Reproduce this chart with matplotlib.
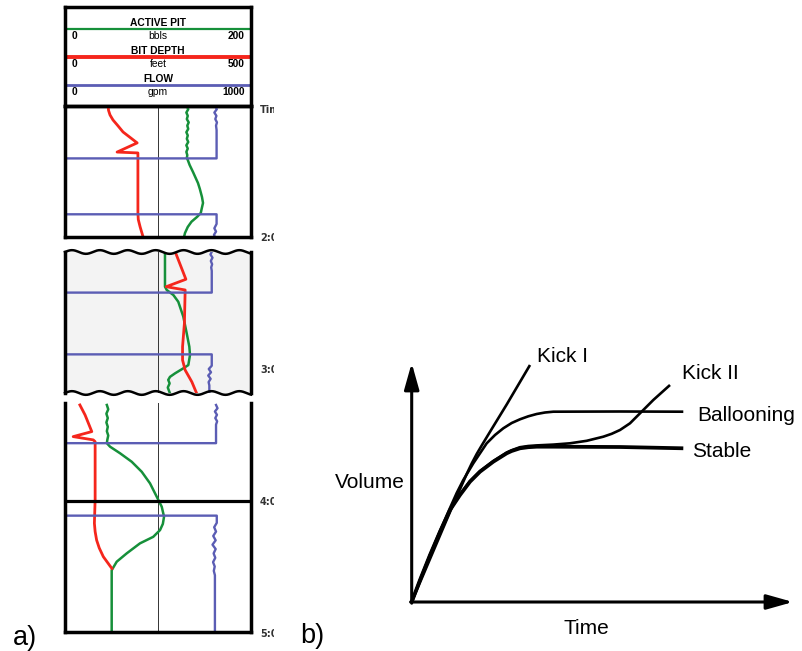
import numpy as np
import matplotlib
matplotlib.use('Agg')
import matplotlib.pyplot as plt
from matplotlib.transforms import Bbox, TransformedBbox, blended_transform_factory

W, H = 802, 651

# ---- a) drilling log, time in minutes after 1:00 ----
# segment 1 (1:00 - 2:00)
seg1_depth_t = [0, 2, 4.1, 6.4, 9, 11.9, 16.9, 21.1, 21.5, 49, 52, 55.4, 60]
seg1_depth = [116, 117, 121, 129, 142, 156, 194, 140, 196, 196, 197, 202, 210]
seg1_pit_t = [0, 1.5, 3, 4.5, 6, 7.5, 9, 10.5, 12, 13.5, 15, 16.5, 18, 19.5, 21, 22.5,
              23.8, 24.7, 27, 30.2, 35.3, 38, 41.7, 44.4, 47, 49, 50.8, 53, 55.4, 58.2, 60]
seg1_pit = [131, 132.5, 130.5, 132, 131, 133, 131.5, 132.5, 130.5, 132, 131, 132.5,
            130.5, 132, 130.5, 131.5, 131, 132, 134, 137.6, 143, 145, 147.3, 148.4,
            147, 146, 142, 136, 132, 129, 128]
seg1_flow_t = [0, 1.5, 3, 4.5, 6, 7.5, 9, 11, 24, 24, 49.6, 49.6, 54, 56, 57.5, 59, 60]
seg1_flow = [808, 816, 803, 814, 808, 817, 812, 815, 815, 0, 0, 815, 815, 803, 812,
             801, 806]

# segment 2 (about 2:05 - 3:10)
seg2_depth_t = [65.7, 78.4, 81.8, 83.3, 98.6, 109.3, 115.4, 120, 125.4, 130.7]
seg2_depth = [296, 325, 272, 323, 321, 316, 316, 323, 341, 354]
seg2_pit_t = [65.7, 81.8, 83.3, 85.6, 88.7, 95.5, 103.2, 109.3, 113.1, 117.7,
              119.2, 121.5, 123.1, 124.5, 126.1, 128, 130.7]
seg2_pit = [107.5, 107.5, 109.4, 116.5, 121.8, 127.2, 130.9, 133.7, 134.4, 132.6,
            127.2, 118.3, 112.9, 111, 112.5, 110.5, 112.9]
seg2_flow_t = [65.7, 67, 68.5, 70, 71.5, 73, 74.5, 84.5, 84.5, 112.8, 112.8, 118,
               119.5, 121, 122.5, 124, 125.5, 127, 130.7]
seg2_flow = [790, 782, 793, 784, 791, 786, 789, 789, 0, 0, 789, 789, 773, 785, 770,
             783, 772, 776, 776]

# segment 3 (about 3:15 - 5:00)
seg3_depth_t = [136, 140.6, 148.2, 150.5, 152, 152.8, 179.5, 190.2, 194, 197.9, 201.5,
                205.5, 210.9]
seg3_depth = [40, 54, 72, 22, 76, 81, 81, 79, 81, 85, 92, 103, 126]
seg3_pit_t = [136, 138, 140, 142, 144, 146, 148, 150, 152, 153.5, 155.1, 158.1, 162,
              166.6, 171.9, 178, 182.6, 187.2, 190.5, 193.3, 196.4, 199.4, 204, 207.8,
              211.7, 240]
seg3_pit = [45, 46.5, 44.5, 46, 44.5, 46, 45, 46.5, 45.5, 45, 48.4, 59.1, 71.7, 82.5,
            91.4, 98.6, 104, 106.5, 105.2, 102.2, 94.9, 80.6, 66.3, 55.6, 50.2, 50.2]
seg3_flow_t = [136, 137.5, 139, 140.5, 142, 143.5, 145, 153.5, 153.5, 186.7, 186.7,
               190, 192, 194, 196, 198, 200, 202, 204, 206, 208, 210, 212, 214, 216,
               220, 240]
seg3_flow = [812, 820, 806, 817, 808, 818, 812, 812, 0, 0, 816, 816, 802, 812, 797,
             810, 793, 810, 799, 808, 796, 805, 800, 806, 806, 806, 806]

track_names = ['ACTIVE PIT', 'BIT DEPTH', 'FLOW']
track_units = ['bbls', 'feet', 'gpm']
track_max = [200, 500, 1000]
time_labels = ['Time', '2:00', '3:00', '4:00', '5:00']

# ---- b) volume vs time sketch ----
stable_t = [0, 0.083, 0.183, 0.283, 0.383, 0.483, 0.583, 0.683, 0.816, 0.95, 1.0,
            1.083, 1.166, 1.25, 1.416, 2.083, 2.716]
stable_v = [0, 0.22, 0.47, 0.703, 0.92, 1.07, 1.203, 1.303, 1.403, 1.487, 1.51,
            1.537, 1.548, 1.553, 1.553, 1.55, 1.537]
kick2_t = [0, 0.083, 0.183, 0.283, 0.383, 0.483, 0.583, 0.683, 0.816, 0.95, 1.0, 1.083,
           1.166, 1.25, 1.416, 1.583, 1.75, 1.916, 2.0, 2.083, 2.183, 2.283, 2.416, 2.583]
kick2_v = [0, 0.22, 0.47, 0.703, 0.92, 1.075, 1.21, 1.31, 1.41, 1.495, 1.518, 1.548,
           1.56, 1.566, 1.574, 1.587, 1.612, 1.653, 1.682, 1.72, 1.787, 1.887, 2.02, 2.17]
balloon_t = [0, 0.083, 0.183, 0.283, 0.383, 0.45, 0.516, 0.616, 0.75, 0.833, 0.916,
             1.0, 1.083, 1.166, 1.25, 1.333, 1.416, 2.083, 2.716]
balloon_v = [0, 0.22, 0.47, 0.71, 0.94, 1.09, 1.22, 1.387, 1.587, 1.67, 1.737,
             1.79, 1.827, 1.857, 1.88, 1.895, 1.903, 1.905, 1.903]
kick1_t = [0, 0.2, 0.4, 0.55, 0.6, 0.65, 0.7, 0.8, 0.95, 1.183]
kick1_v = [0, 0.47, 0.94, 1.28, 1.385, 1.48, 1.565, 1.73, 1.975, 2.37]

RED, GREEN, BLUE = '#f5261c', '#16903a', '#5b5db4'

plt.rcParams['font.family'] = ['Liberation Sans', 'DejaVu Sans']
fig = plt.figure(figsize=(W / 100, H / 100), dpi=100)


def px_axes(x0, y0, x1, y1):
    return fig.add_axes([x0 / W, 1 - y1 / H, (x1 - x0) / W, (y1 - y0) / H])


# header
hdr = px_axes(65, 7, 251, 106)
hdr.set_xticks([])
hdr.set_yticks([])
for s in hdr.spines.values():
    s.set_linewidth(2.5)
for i, (name, unit, vmax, col, lw) in enumerate(
        zip(track_names, track_units, track_max, [GREEN, RED, BLUE], [1.6, 2.8, 2.0])):
    y0 = 0.838 - i * 0.285
    hdr.text(0.5, y0, name, ha='center', va='center', fontsize=7.4, fontweight='bold')
    hdr.axhline(y0 - 0.06, color=col, lw=lw)
    hdr.text(0.035, y0 - 0.131, '0', ha='left', va='center', fontsize=7.4, fontweight='bold')
    hdr.text(0.5, y0 - 0.131, unit, ha='center', va='center', fontsize=7.4)
    hdr.text(0.965, y0 - 0.131, str(vmax), ha='right', va='center', fontsize=7.4,
             fontweight='bold')

segments = [
    dict(px=(106, 237), lim=(0, 60), depth=(seg1_depth_t, seg1_depth),
         pit=(seg1_pit_t, seg1_pit), flow=(seg1_flow_t, seg1_flow)),
    dict(px=(252, 393), lim=(65.9, 130.5), depth=(seg2_depth_t, seg2_depth),
         pit=(seg2_pit_t, seg2_pit), flow=(seg2_flow_t, seg2_flow)),
    dict(px=(403, 632), lim=(135.1, 240), depth=(seg3_depth_t, seg3_depth),
         pit=(seg3_pit_t, seg3_pit), flow=(seg3_flow_t, seg3_flow)),
]

axes = []
for seg in segments:
    ax = px_axes(65, seg['px'][0], 251, seg['px'][1])
    ax.set_xlim(0, 1)
    ax.set_ylim(seg['lim'][1], seg['lim'][0])
    ax.set_xticks([])
    ax.set_yticks([])
    ax.set_facecolor('none')
    for s in ax.spines.values():
        s.set_linewidth(2.5)
    ax.axvline(0.5, color='#333333', lw=0.7)
    ax.plot(np.array(seg['pit'][1]) / track_max[0], seg['pit'][0], color=GREEN, lw=1.8)
    ax.plot(np.array(seg['depth'][1]) / track_max[1], seg['depth'][0], color=RED, lw=2.0)
    ax.plot(np.array(seg['flow'][1]) / track_max[2], seg['flow'][0], color=BLUE, lw=1.7)
    axes.append(ax)

# broken middle segment: wavy edges and grey fill
ax2 = axes[1]
ax2.spines['top'].set_visible(False)
ax2.spines['bottom'].set_visible(False)
xs = np.linspace(0, 1, 300)
wave = 0.013 * np.sin(2 * np.pi * xs / 0.15)
ax2.fill_between(xs, wave, 1 + wave, color='#f3f3f3', lw=0, zorder=0,
                 transform=ax2.transAxes)
ax2.plot(xs, 1 + wave, color='k', lw=1.8, transform=ax2.transAxes, clip_on=False)
ax2.plot(xs, wave, color='k', lw=1.8, transform=ax2.transAxes, clip_on=False)

ax3 = axes[2]
ax3.spines['top'].set_visible(False)
ax3.axhline(180, color='k', lw=2.3)

# time labels, cut off at the right like the scan
clip = TransformedBbox(Bbox([[0, 0], [274 / W, 1]]), fig.transFigure)
for lab, ax, t in zip(time_labels, [axes[0], axes[0], axes[1], axes[2], axes[2]],
                      [1.8, 60.5, 120, 180.5, 241]):
    tr = blended_transform_factory(fig.transFigure, ax.transData)
    txt = ax.text(260 / W, t, lab, transform=tr, ha='left', va='center', fontsize=7,
                  fontweight='bold', color='#333333', family='DejaVu Sans')
    txt.set_clip_box(clip)
    txt.set_clip_on(True)

# panel b
axb = px_axes(411.7, 363, 793, 602)
axb.set_xlim(0, 3.813)
axb.set_ylim(0, 2.39)
axb.axis('off')
arrow = dict(arrowstyle='-|>,head_length=1.6,head_width=0.45', mutation_scale=10,
             lw=2.2, color='k', shrinkA=0, shrinkB=0)
axb.annotate('', xy=(0, 1), xytext=(0, -0.005), xycoords='axes fraction', arrowprops=arrow)
axb.annotate('', xy=(1, 0), xytext=(-0.003, 0), xycoords='axes fraction', arrowprops=arrow)

curves = [('Kick I', kick1_t, kick1_v, 1.9, (5, 6)),
          ('Ballooning', balloon_t, balloon_v, 1.9, (10, -2.4)),
          ('Kick II', kick2_t, kick2_v, 1.9, (8.5, 8.6)),
          ('Stable', stable_t, stable_v, 2.7, (6, -2.4))]
for name, t, v, lw, off in curves:
    axb.plot(t, v, color='k', lw=lw, solid_capstyle='butt', solid_joinstyle='round',
             clip_on=False)
    axb.annotate(name, xy=(t[-1], v[-1]), xytext=off, textcoords='offset points',
                 ha='left', va='center', fontsize=15)

axb.text(-0.018, 0.498, 'Volume', transform=axb.transAxes, ha='right', va='center',
         fontsize=15)
axb.text(0.457, -0.109, 'Time', transform=axb.transAxes, ha='center', va='center',
         fontsize=15)

fig.text(13 / W, 1 - 645 / H, 'a)', fontsize=19.5, va='baseline')
fig.text(300 / W, 1 - 643 / H, 'b)', fontsize=19.5, va='baseline')

fig.savefig('out.png', dpi=100)
